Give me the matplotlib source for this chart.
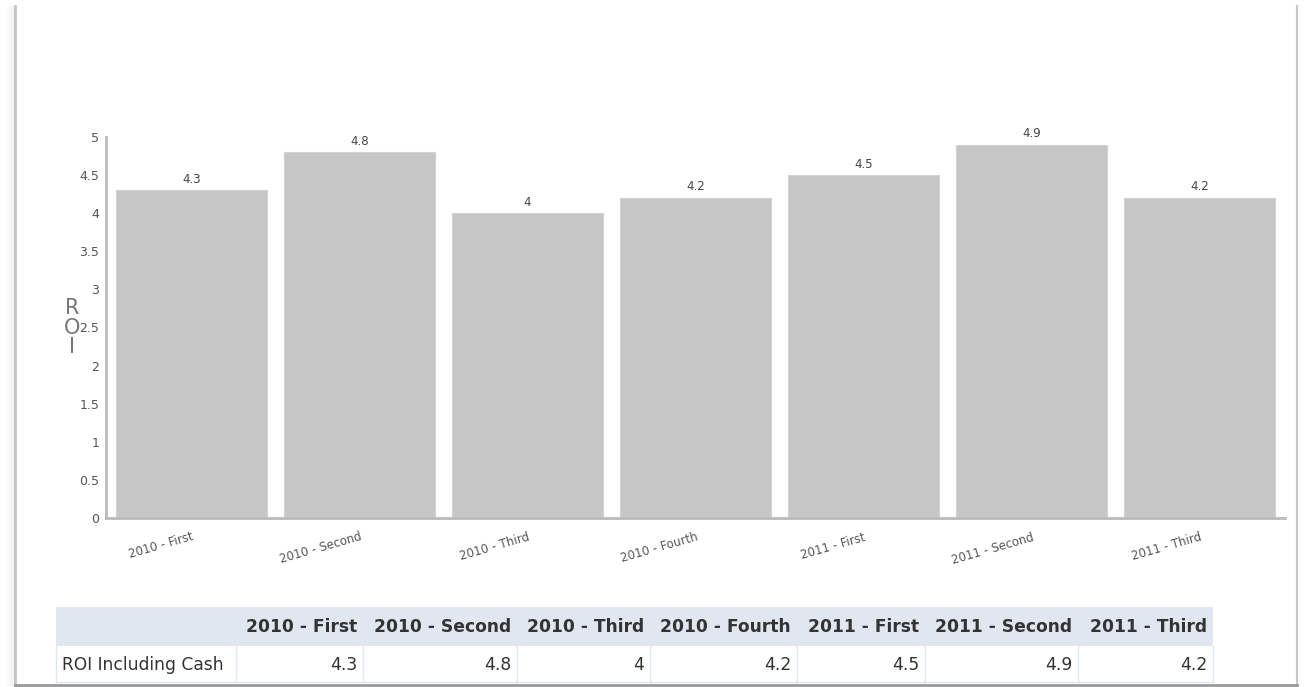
import matplotlib
matplotlib.use('Agg')
import matplotlib.pyplot as plt
from matplotlib.patches import Rectangle

# data
periods = ['2010 - First', '2010 - Second', '2010 - Third', '2010 - Fourth',
           '2011 - First', '2011 - Second', '2011 - Third']
roi = [4.3, 4.8, 4, 4.2, 4.5, 4.9, 4.2]
value_labels = ['4.3', '4.8', '4', '4.2', '4.5', '4.9', '4.2']
series_name = 'ROI Including Cash'
y_ticks = [0, 0.5, 1, 1.5, 2, 2.5, 3, 3.5, 4, 4.5, 5]
y_tick_labels = ['0', '0.5', '1', '1.5', '2', '2.5', '3', '3.5', '4', '4.5', '5']

W, H = 1307, 687
fig = plt.figure(figsize=(W / 100, H / 100), dpi=100)
fig.patch.set_facecolor('white')

# page frame (left / right / bottom rules)
frame = fig.add_axes([0, 0, 1, 1])
frame.set_xlim(0, W)
frame.set_ylim(H, 0)
frame.axis('off')
for i, a in enumerate([0.04, 0.07, 0.1, 0.14]):
    frame.add_patch(Rectangle((7 + i * 2, 6), 2, H, color='#999999', alpha=a, lw=0))
frame.plot([15, 15], [6, 686], color='#c4c4c4', lw=2)
frame.plot([1297, 1297], [6, 686], color='#c8c8c8', lw=1.5)
frame.plot([15, 1297], [685, 685], color='#999999', lw=2)

# bar chart
ax = fig.add_axes([106 / W, 1 - 518 / H, 1179 / W, 381 / H])
x = list(range(len(periods)))
bars = ax.bar(x, roi, width=0.9, color='#c6c6c6', edgecolor='#d2d2d2', linewidth=0.8)
for rect, lab in zip(bars, value_labels):
    ax.text(rect.get_x() + rect.get_width() / 2, rect.get_height() + 0.06, lab,
            ha='center', va='bottom', fontsize=8.5, color='#444444')

ax.set_xlim(-0.5 - 0.01, len(periods) - 0.5 + 0.01)
ax.set_ylim(0, 5)
ax.set_yticks(y_ticks)
ax.set_yticklabels(y_tick_labels, fontsize=9, color='#555555')
ax.set_xticks(x)
ax.set_xticklabels(periods, rotation=16, ha='right', rotation_mode='anchor',
                   fontsize=8.5, color='#555555')
ax.tick_params(axis='both', length=0)
ax.tick_params(axis='y', pad=5)
ax.tick_params(axis='x', pad=9)
for s in ['top', 'right']:
    ax.spines[s].set_visible(False)
for s in ['left', 'bottom']:
    ax.spines[s].set_color('#bbbbbb')
    ax.spines[s].set_linewidth(2)

ax.set_ylabel('R\nO\nI', rotation=0, fontsize=15, color='#777777',
              linespacing=0.95, va='center', ha='center')
ax.yaxis.set_label_coords(-0.029, 0.50)

# data table below
col_edges = [56, 236, 363, 517, 650, 797, 925, 1078, 1213]
row_top, row_mid, row_bot = 607, 646, 682
tab = frame
tab.add_patch(Rectangle((col_edges[0], row_top), col_edges[-1] - col_edges[0],
                        row_mid - row_top, color='#e0e7f1', lw=0))
for cx in col_edges:
    tab.plot([cx, cx], [row_mid, row_bot], color='#e0e7f1', lw=1)
tab.plot([col_edges[0], col_edges[-1]], [row_bot, row_bot], color='#e0e7f1', lw=1)

for i, p in enumerate(periods):
    tab.text(col_edges[i + 2] - 6, (row_top + row_mid) / 2 + 1, p, ha='right',
             va='center', fontsize=12.3, fontweight='bold', color='#333333')
    tab.text(col_edges[i + 2] - 6, (row_mid + row_bot) / 2 + 1, value_labels[i],
             ha='right', va='center', fontsize=12.3, color='#333333')
tab.text(col_edges[0] + 6, (row_mid + row_bot) / 2 + 1, series_name, ha='left',
         va='center', fontsize=12.3, color='#333333')

fig.savefig('out.png', dpi=100)
